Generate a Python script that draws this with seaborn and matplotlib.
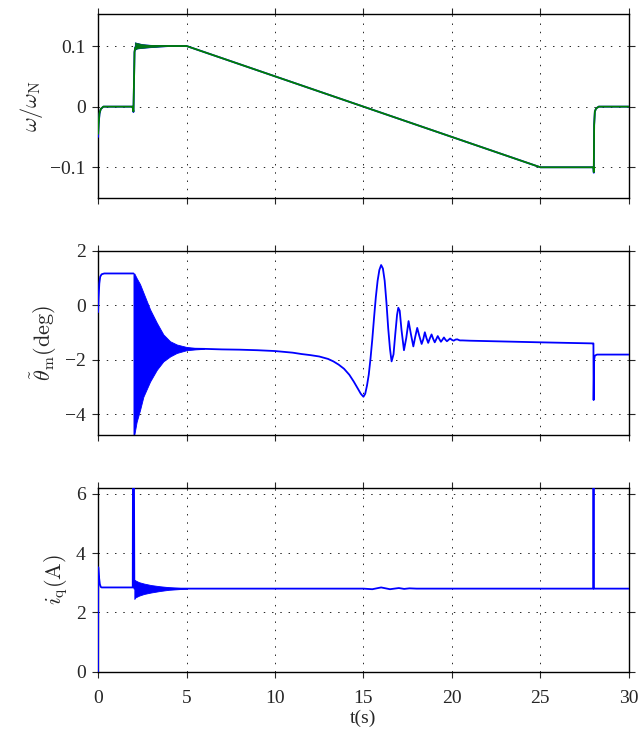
import numpy as np
import pandas as pd
import matplotlib
matplotlib.use("Agg")
import matplotlib.pyplot as plt
import seaborn as sns

# ---- speed (omega / omega_N), blue = measured, green = estimated
omega_t = [0, 0.03, 0.08, 0.15, 0.3, 1.95, 2.0, 2.03, 2.06, 2.1, 2.2, 3.5, 5.0, 25.0, 28.0, 28.02, 28.04, 28.08, 28.15, 28.3, 30]
omega_blue = [-0.05, -0.03, -0.012, -0.004, 0, 0, -0.009, 0.04, 0.09, 0.098, 0.1, 0.1, 0.1, -0.1, -0.1, -0.109, -0.03, -0.008, -0.003, 0, 0]
omega_green = [-0.045, -0.028, -0.011, -0.004, 0, 0, -0.008, 0.04, 0.09, 0.097, 0.1, 0.1, 0.1, -0.1, -0.1, -0.108, -0.03, -0.008, -0.003, 0, 0]
omega_band_t = [2.08, 2.2, 2.5, 2.9, 3.4, 4.0]
omega_band_hi = [0.106, 0.105, 0.103, 0.102, 0.101, 0.1]
omega_band_lo = [0.094, 0.096, 0.097, 0.098, 0.099, 0.1]

# ---- position error theta_m (deg); first 8 points = start-up, rest = after the ringing
theta_t = [0, 0.03, 0.07, 0.12, 0.2, 0.35, 1.96, 2.0,
           5.0, 6, 7, 8, 9, 10, 11, 11.5, 12, 12.5, 13, 13.3, 13.6, 13.9, 14.2, 14.45, 14.7, 14.85,
           15.0, 15.1, 15.2, 15.3, 15.4, 15.5, 15.6, 15.7, 15.8, 15.9, 16.0, 16.1, 16.2, 16.3, 16.4, 16.5,
           16.59, 16.7, 16.8, 16.9, 16.97, 17.05, 17.15, 17.29, 17.42, 17.55, 17.68, 17.82, 17.93, 18.04,
           18.16, 18.29, 18.38, 18.47, 18.56, 18.66, 18.75, 18.85, 18.94, 19.03, 19.12, 19.2, 19.29, 19.38,
           19.47, 19.55, 19.63, 19.72, 19.81, 19.9, 20.0, 20.1, 20.2, 20.3, 20.45, 20.6, 21, 23, 25, 27.98,
           28.0, 28.01, 28.04, 28.08, 28.2, 30]
theta_v = [-0.25, 0.3, 0.8, 1.05, 1.14, 1.17, 1.17, 1.17,
           -1.59, -1.6, -1.62, -1.63, -1.65, -1.68, -1.74, -1.79, -1.83, -1.88, -1.97, -2.06, -2.18, -2.33, -2.55, -2.8, -3.08, -3.25,
           -3.36, -3.25, -2.95, -2.55, -1.95, -1.25, -0.45, 0.3, 0.9, 1.3, 1.48, 1.35, 0.9, 0.1, -0.85, -1.6,
           -2.06, -1.8, -1.05, -0.35, -0.09, -0.2, -0.9, -1.65, -1.2, -0.58, -1.05, -1.51, -1.15, -0.83,
           -1.13, -1.42, -1.25, -0.99, -1.2, -1.38, -1.22, -1.07, -1.23, -1.36, -1.24, -1.13, -1.24, -1.34,
           -1.26, -1.18, -1.26, -1.32, -1.27, -1.22, -1.27, -1.3, -1.26, -1.25, -1.29, -1.29, -1.3, -1.33, -1.36, -1.4,
           -1.4, -3.48, -2.0, -1.85, -1.81, -1.81]
theta_seg = [0] * 8 + [1] * (len(theta_t) - 8)
theta_osc_t = [2.0, 2.05, 2.18, 2.37, 2.56, 2.94, 3.32, 3.69, 4.07, 4.45, 5.0, 5.5, 6.0]
theta_osc_hi = [1.17, 1.17, 1.0, 0.78, 0.47, -0.15, -0.64, -1.07, -1.32, -1.44, -1.53, -1.57, -1.6]
theta_osc_lo = [-4.75, -4.75, -4.28, -3.85, -3.36, -2.80, -2.37, -2.06, -1.88, -1.75, -1.65, -1.62, -1.6]

# ---- q-axis current (A)
iq_t = [0, 0.01, 0.05, 0.1, 0.15, 0.2, 1.96, 1.97, 2.03, 2.05,
        5.0, 15.0, 15.5, 16.0, 16.5, 17.0, 17.3, 17.6, 18.0, 27.99, 28.0, 28.01, 28.02, 30]
iq_v = [0, 3.52, 3.2, 2.95, 2.86, 2.84, 2.84, 6.5, 6.5, 2.8,
        2.80, 2.80, 2.78, 2.84, 2.78, 2.82, 2.79, 2.81, 2.80, 2.80, 6.5, 6.5, 2.8, 2.8]
iq_osc_t = [2.05, 2.1, 2.3, 2.6, 3.0, 3.5, 4.0, 4.5, 5.0]
iq_osc_hi = [3.1, 3.08, 3.02, 2.97, 2.92, 2.88, 2.85, 2.83, 2.81]
iq_osc_lo = [2.45, 2.5, 2.56, 2.62, 2.67, 2.72, 2.76, 2.78, 2.80]

x_ticks = [0, 5, 10, 15, 20, 25, 30]
omega_ticks = [-0.1, 0, 0.1]
omega_ticklabels = ["\u22120.1", "0", "0.1"]
theta_ticks = [-4, -2, 0, 2]
theta_ticklabels = ["\u22124", "\u22122", "0", "2"]
iq_ticks = [0, 2, 4, 6]

sns.set_style("ticks")
plt.rcParams["font.family"] = ["Liberation Serif", "DejaVu Serif"]
plt.rcParams["mathtext.fontset"] = "cm"

blue = "#0000ff"
green = "#008000"
lw = 1.3

fig, axes = plt.subplots(3, 1, figsize=(6.41, 7.3), dpi=100, sharex=True)
fig.subplots_adjust(left=0.153, right=0.981, top=0.981, bottom=0.080, hspace=0.29)
ax1, ax2, ax3 = axes

# speed
sns.lineplot(x=omega_t, y=omega_blue, ax=ax1, color=blue, lw=lw, sort=False, estimator=None, zorder=3)
ax1.fill_between(omega_band_t, omega_band_lo, omega_band_hi, color=blue, lw=0.6)
sns.lineplot(x=omega_t, y=omega_green, ax=ax1, color=green, lw=lw, sort=False, estimator=None, zorder=3)
ax1.fill_between(omega_band_t, omega_band_lo, omega_band_hi, color=green, lw=0.4, alpha=0.9)
ax1.set_ylim(-0.15, 0.153)
ax1.set_yticks(omega_ticks)
ax1.set_yticklabels(omega_ticklabels)
ax1.set_ylabel(r"$\omega/\omega_{\rm N}$", fontsize=16)

# theta error
theta_df = pd.DataFrame({"t": theta_t, "v": theta_v, "seg": theta_seg})
sns.lineplot(data=theta_df, x="t", y="v", units="seg", ax=ax2, color=blue, lw=lw,
             sort=False, estimator=None, zorder=3)
ax2.fill_between(theta_osc_t, theta_osc_lo, theta_osc_hi, color=blue, lw=0.6)
ax2.set_ylim(-4.75, 2.0)
ax2.set_yticks(theta_ticks)
ax2.set_yticklabels(theta_ticklabels)
ax2.set_xlabel("")
ax2.set_ylabel(r"$\tilde{\theta}_{\rm m}{\rm (deg)}$", fontsize=16)

# current
sns.lineplot(x=iq_t, y=iq_v, ax=ax3, color=blue, lw=lw, sort=False, estimator=None, zorder=3)
ax3.fill_between(iq_osc_t, iq_osc_lo, iq_osc_hi, color=blue, lw=0.6)
ax3.set_ylim(0, 6.2)
ax3.set_yticks(iq_ticks)
ax3.set_ylabel(r"$i_{\rm q}{\rm (A)}$", fontsize=16)
ax3.set_xlabel("t(s)", fontsize=14, labelpad=2)

for ax in axes:
    ax.set_xlim(0, 30)
    ax.set_xticks(x_ticks)
    ax.grid(True, color="0.15", linestyle=(0, (1.5, 7)), lw=0.7)
    ax.tick_params(direction="out", length=4, width=0.8, top=True, right=True, labelsize=14)
    ax.tick_params(axis="y", pad=5)
    for s in ax.spines.values():
        s.set_visible(True)
        s.set_linewidth(1.0)
        s.set_color("black")

ax3.tick_params(axis="x", pad=9)
fig.savefig("out.png", dpi=100)
